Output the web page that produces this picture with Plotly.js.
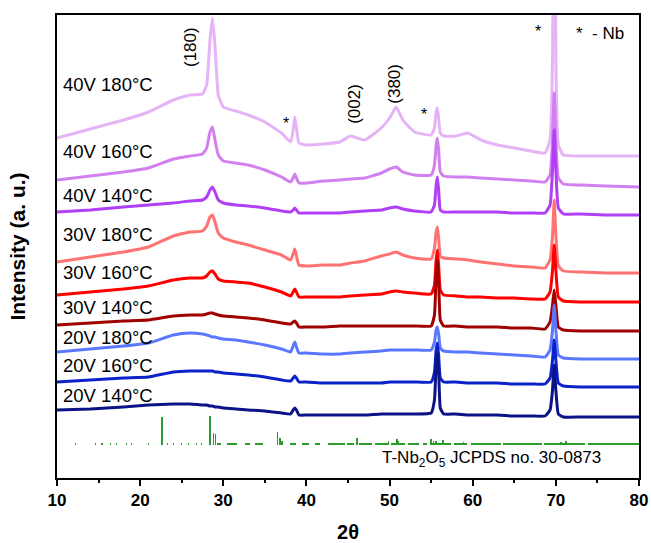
<!DOCTYPE html>
<html>
<head>
<meta charset="utf-8">
<script src="https://cdn.plot.ly/plotly-3.0.1.min.js"></script>
<style>html,body{margin:0;padding:0;background:#fff;}</style>
</head>
<body>
<div id="chart" style="width:651px;height:543px;"></div>
<script>
// 2-theta grid shared by all patterns
const twoTheta = [10, 14, 18, 21, 24, 26, 27.5, 28.0, 28.4, 28.7, 29.0, 29.4, 30, 31.5, 33, 35, 37, 38.1, 38.4, 38.6, 38.8, 39.1, 40, 42, 44, 45.3, 47, 49, 50.0, 50.8, 51.6, 53, 55.0, 55.4, 55.6, 55.75, 55.9, 56.1, 56.5, 58, 59.4, 61, 63, 65, 67, 68.7, 69.3, 69.6, 69.8, 70.0, 70.3, 70.9, 73, 76, 80];

// stacked intensities (a.u., offset)
const i40V180 = [340,349,358,366,378,383,384,393,438,460, 433,383,371,367,363,356,345,336,348,361, 350,335,333,334,336,342,338,350,360,371, 358,346,343,350,366,370,360,345,342,342, 345,338,333,330,327,325,338,418,778,418, 333,323,322,322,322];
const i40V160 = [298,302,306,310,319,322,324,330,346,351, 338,323,317,315,313,308,301,296,300,304, 300,295,295,297,298,299,300,305,309,311, 306,303,303,313,333,340,328,306,302,301, 301,300,299,298,297,296,303,338,385,338, 300,294,293,292,291];
const i40V140 = [266,268,271,273,275,277,278,281,288,291, 286,278,275,273,272,270,267,266,268,270, 268,265,265,265,265,266,267,268,270,271, 269,267,266,273,293,301,288,268,266,266, 266,266,266,265,265,265,273,308,348,308, 270,264,264,263,263];
const i30V180 = [216,221,226,231,242,246,247,252,261,263, 256,245,240,236,233,228,223,218,224,229, 222,213,212,213,213,215,217,222,224,226, 223,220,219,230,246,251,240,222,220,219, 218,216,214,212,211,210,218,243,278,243, 212,207,206,205,205];
const i30V160 = [183,186,189,192,198,200,200,202,206,207, 204,199,197,196,195,191,186,182,186,189, 186,181,181,181,181,182,183,184,186,187, 186,185,184,193,218,228,213,188,183,182, 181,181,180,180,179,179,186,208,233,208, 181,177,176,176,176];
const i30V140 = [153,155,157,158,162,163,163,164,165,165, 164,163,162,161,160,158,155,154,156,157, 155,151,151,151,152,152,152,152,152,152, 152,152,152,163,203,218,198,158,152,152, 151,151,151,150,150,149,156,173,188,173, 151,148,147,147,147];
const i20V180 = [126,129,132,135,143,145,144,143,142,141, 141,140,139,138,136,133,129,126,132,136, 131,125,125,124,124,125,126,127,128,128, 128,128,128,136,148,151,144,130,127,126, 126,125,124,123,122,121,128,148,173,148, 123,120,119,119,119];
const i20V160 = [96,98,100,101,106,107,107,107,107,107, 106,106,105,104,103,101,98,97,100,102, 100,96,96,95,95,95,95,95,96,96, 96,96,96,106,128,135,123,100,96,96, 95,95,95,94,94,94,100,118,138,118, 95,92,91,91,91];
const i20V140 = [68,69,71,73,74,74,73,73,72,72, 71,71,70,69,68,67,65,64,68,70, 68,63,63,63,63,63,63,64,64,64, 64,64,65,78,113,125,108,70,64,64, 63,63,63,62,62,62,68,88,113,88, 64,61,61,61,61];

const sampleNames = ["40V 180°C","40V 160°C","40V 140°C","30V 180°C","30V 160°C","30V 140°C","20V 180°C","20V 160°C","20V 140°C"];
const sampleLabelY = [394, 327, 283, 244, 206, 171, 141, 113, 83];

// JCPDS 30-0873 reference (T-Nb2O5)
const refBase = 33;
const refPos = [22.6, 28.4, 28.8, 29.05, 36.55, 36.8, 37.05, 46.1, 49.9, 50.9, 51.1, 55.0, 55.3, 55.6, 56.4, 58.9, 63.9, 70.6, 71.2, 77.9];
const refInt = [28, 29, 12, 11, 13, 7, 4, 7, 4, 6, 4, 6, 4, 4, 5, 3, 2, 3, 4, 2];
const refMinorPos = [12.2, 14.6, 15.4, 16.4, 17.2, 18.4, 19.0, 21.0, 23.3, 24.0, 25.0, 25.8, 26.8, 27.4, 29.5, 31.1, 32.9, 34.3, 38.4, 39.9, 41.3, 43.6, 45.3, 47.1, 49.0, 51.0, 52.9, 54.3, 56.2, 58.5, 61.6, 66.0, 71.0, 77.0];
const refMinorSpan = [0.15,0.15,0.15,0.15,0.15,0.15,0.15,0.15,0.15,0.15,0.15,0.15,0.15,0.15,0.5,1.2,0.6,1.0,0.8,0.8,0.6,2.0,0.8,1.5,1.6,1.6,1.3,0.5,2.3,1.6,3.7,4.6,4.9,6.2];
const refMinorInt = 1.6;

const series = [i40V180, i40V160, i40V140, i30V180, i30V160, i30V140, i20V180, i20V160, i20V140];
const colors = ["#E6B3F7", "#D27FF0", "#B040F5", "#FF7272", "#FF0000", "#A00000", "#5A78FF", "#0A22C8", "#0B1487"];

const FONT = "Liberation Sans, Arial, sans-serif";

const traces = [];
series.forEach((s, k) => {
  traces.push({
    type: "scatter", mode: "lines", x: twoTheta, y: s,
    line: {color: colors[k], width: 3, shape: "spline", smoothing: 0.4},
    name: sampleNames[k], showlegend: false, hoverinfo: "skip"
  });
});
traces.push({
  type: "bar", x: refMinorPos, y: refMinorPos.map(() => refMinorInt), base: refBase,
  width: refMinorSpan, marker: {color: "#2A9D2A", line: {width: 0}},
  showlegend: false, hoverinfo: "skip"
});
traces.push({
  type: "bar", x: refPos, y: refInt, base: refBase,
  width: 0.18, marker: {color: "#2A9D2A", line: {width: 0}},
  showlegend: false, hoverinfo: "skip"
});

const annotations = [];
sampleNames.forEach((n, k) => {
  annotations.push({x: 10.45, y: sampleLabelY[k], xref: "x", yref: "y", text: n, showarrow: false,
    xanchor: "left", yanchor: "middle", font: {family: FONT, size: 18.5, color: "#000"}});
});
const txt = (x, y, t, size, angle) => ({x, y, xref: "x", yref: "y", text: t, showarrow: false,
  xanchor: "center", yanchor: "middle", textangle: angle || 0, font: {family: FONT, size, color: "#000"}});
annotations.push(txt(26.0, 431, "(180)", 17, -90));
annotations.push(txt(45.7, 374, "(002)", 17, -90));
annotations.push(txt(50.5, 394, "(380)", 17, -90));
annotations.push(txt(37.5, 355, "*", 16));
annotations.push(txt(54.1, 364, "*", 16));
annotations.push(txt(67.85, 447, "*", 16));
annotations.push(txt(75.3, 445, "*  - Nb", 17));
annotations.push(txt(62.2, 19, "T-Nb<sub>2</sub>O<sub>5</sub> JCPDS no. 30-0873", 17));

const layout = {
  width: 651, height: 543,
  margin: {l: 57, r: 12, t: 15, b: 65, pad: 0},
  paper_bgcolor: "#fff", plot_bgcolor: "#fff",
  barmode: "overlay", bargap: 0,
  font: {family: FONT, color: "#000"},
  xaxis: {
    range: [10, 80], tickmode: "array", tickvals: [10, 20, 30, 40, 50, 60, 70, 80],
    ticks: "outside", ticklen: 6, tickwidth: 2, tickcolor: "#000",
    minor: {tickvals: [15, 25, 35, 45, 55, 65, 75], ticks: "outside", ticklen: 3, tickwidth: 2, tickcolor: "#000"},
    showline: true, linewidth: 2, linecolor: "#000", mirror: true,
    showgrid: false, zeroline: false,
    tickfont: {family: FONT, size: 17, weight: "bold", color: "#000"},
    title: {text: "2θ", standoff: 16, font: {family: FONT, size: 20, weight: "bold", color: "#000"}}
  },
  yaxis: {
    range: [0, 463], showticklabels: false, ticks: "",
    showline: true, linewidth: 2, linecolor: "#000", mirror: true,
    showgrid: false, zeroline: false,
    title: {text: "Intensity (a. u.)", standoff: 24, font: {family: FONT, size: 21, weight: "bold", color: "#000"}}
  },
  annotations: annotations
};

Plotly.newPlot("chart", traces, layout, {displayModeBar: false, staticPlot: true});
</script>
</body>
</html>
